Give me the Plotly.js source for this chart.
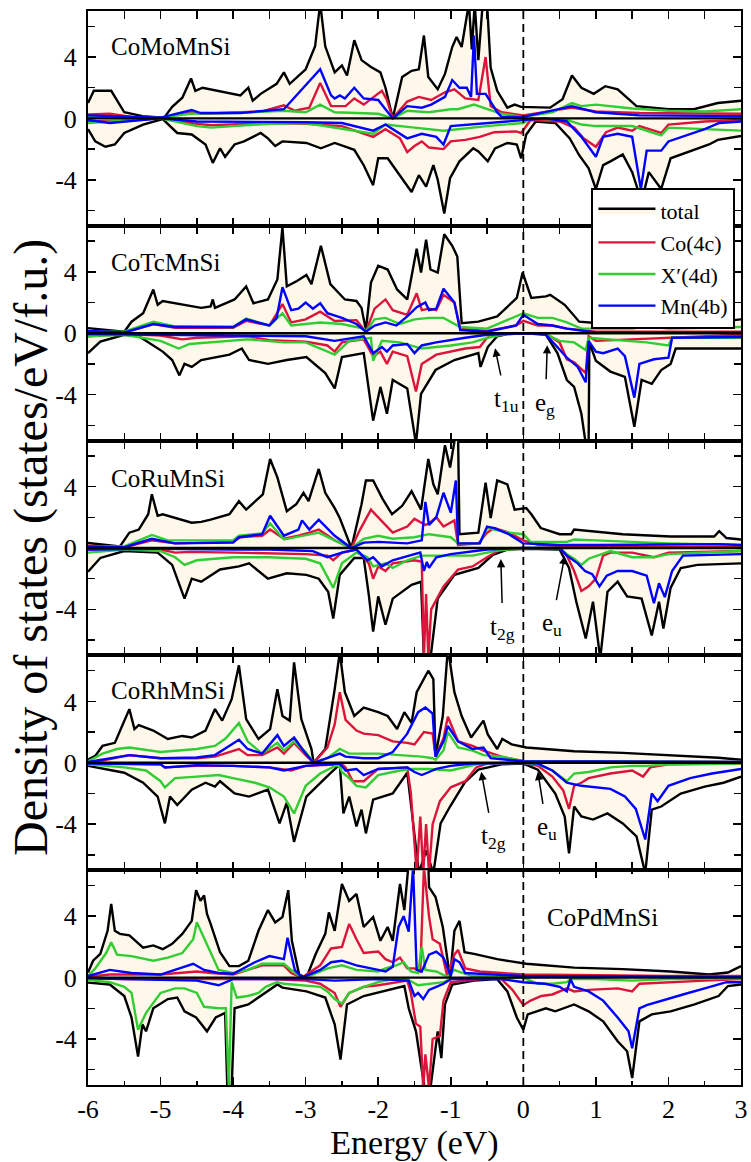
<!DOCTYPE html>
<html>
<head>
<meta charset="utf-8">
<script src="https://cdn.plot.ly/plotly-3.0.1.min.js"></script>
<style>html,body{margin:0;padding:0;background:#fff}#chart{width:751px;height:1162px}</style>
</head>
<body>
<div id="chart"></div>
<script>
// ---------- DATA: [energy (eV), DOS (states/eV/f.u.)] ----------
const compounds = ['CoMoMnSi','CoTcMnSi','CoRuMnSi','CoRhMnSi','CoPdMnSi'];
const seriesNames = ['total','Co(4c)','X\u2032(4d)','Mn(4b)'];
const xTickVals = [-6,-5,-4,-3,-2,-1,0,1,2,3];
const xTickText = ['-6','-5','-4','-3','-2','-1','0','1','2','3'];
const yTickVals = [-4,0,4];
const yTickText = ['-4','0','4'];

// CoMoMnSi
const mo_tot_up = [[-6,1.0],[-5.92,1.8],[-5.68,1.8],[-5.5,0.4],[-5.25,0.15],[-4.95,0.05],[-4.84,0.75],[-4.7,1.35],[-4.58,2.6],[-4.52,1.8],[-4.42,2.0],[-4.1,1.7],[-3.9,1.5],[-3.79,2.0],[-3.73,1.15],[-3.62,1.6],[-3.4,2.25],[-3.3,3.0],[-3.22,2.25],[-3.0,3.2],[-2.87,4.7],[-2.8,7.5],[-2.73,4.7],[-2.6,3.0],[-2.5,3.45],[-2.43,2.8],[-2.33,5.1],[-2.23,3.8],[-2.1,3.35],[-1.97,3.0],[-1.9,2.0],[-1.8,0.0],[-1.67,2.7],[-1.54,3.1],[-1.44,3.2],[-1.37,5.4],[-1.31,2.7],[-1.18,1.9],[-1.08,2.9],[-0.98,4.65],[-0.92,5.3],[-0.85,4.65],[-0.75,7.5],[-0.71,4.5],[-0.67,7.5],[-0.62,3.8],[-0.56,7.5],[-0.5,7.5],[-0.45,3.3],[-0.36,1.8],[-0.22,0.7],[-0.12,0.9],[-0.03,0.75],[0.37,0.7],[0.54,1.25],[0.67,2.8],[0.8,2.0],[0.97,1.6],[1.13,2.1],[1.3,1.9],[1.56,0.8],[2.0,0.6],[2.35,0.6],[2.68,1.0],[3.0,1.15]];
const mo_tot_dn = [[-6,-0.7],[-5.9,-1.5],[-5.76,-1.85],[-5.63,-1.7],[-5.5,-0.95],[-5.24,-0.4],[-4.97,-0.05],[-4.77,-0.95],[-4.57,-1.05],[-4.38,-1.7],[-4.28,-2.9],[-4.18,-1.95],[-4.11,-2.5],[-3.98,-1.7],[-3.85,-1.5],[-3.62,-0.95],[-3.52,-1.3],[-3.42,-1.8],[-3.32,-1.5],[-2.99,-1.6],[-2.79,-1.95],[-2.6,-1.6],[-2.33,-2.05],[-2.2,-3.05],[-2.07,-4.35],[-2.0,-2.6],[-1.87,-2.6],[-1.67,-3.9],[-1.54,-4.8],[-1.44,-3.7],[-1.34,-4.45],[-1.24,-3.05],[-1.18,-4.0],[-1.09,-6.2],[-1.01,-3.9],[-0.88,-2.8],[-0.69,-1.95],[-0.62,-2.15],[-0.49,-2.8],[-0.39,-1.95],[-0.22,-1.6],[-0.09,-1.7],[-0.03,-2.6],[0.04,-1.05],[0.17,-0.2],[0.44,-0.3],[0.64,-1.3],[0.77,-2.4],[0.9,-3.25],[1.0,-4.6],[1.1,-3.05],[1.2,-2.8],[1.37,-2.35],[1.5,-3.5],[1.63,-5.4],[1.73,-3.5],[1.9,-4.6],[2.03,-2.6],[2.29,-2.15],[2.56,-1.7],[2.68,-1.4],[3.0,-1.15]];
const mo_co_up = [[-6,0.25],[-5.7,0.3],[-5.4,0.1],[-5.0,0.02],[-4.57,0.4],[-4.4,0.3],[-3.9,0.4],[-3.6,0.45],[-3.3,0.85],[-3.15,0.5],[-2.95,0.7],[-2.8,2.3],[-2.65,0.8],[-2.45,0.8],[-2.33,1.3],[-2.2,0.9],[-1.95,1.8],[-1.88,1.2],[-1.8,0.0],[-1.6,1.1],[-1.44,1.4],[-1.27,1.2],[-1.08,1.7],[-0.95,1.9],[-0.8,1.3],[-0.62,1.2],[-0.52,4.0],[-0.45,0.8],[-0.3,0.4],[0,0.2],[0.67,0.7],[1.0,0.45],[1.6,0.35],[3.0,0.3]];
const mo_co_dn = [[-6,-0.2],[-5.5,-0.15],[-5.0,0.0],[-4.6,-0.3],[-4.3,-0.45],[-3.5,-0.3],[-3.0,-0.35],[-2.5,-0.5],[-2.07,-1.2],[-1.9,-0.7],[-1.7,-1.3],[-1.6,-2.2],[-1.5,-1.8],[-1.4,-1.5],[-1.3,-1.9],[-1.1,-2.0],[-1.0,-1.5],[-0.8,-1.4],[-0.6,-1.2],[-0.4,-0.9],[-0.1,-0.85],[-0.03,-0.95],[0.1,-0.1],[0.5,-0.2],[0.7,-0.6],[0.83,-1.3],[1.0,-1.85],[1.14,-0.9],[1.3,-0.6],[1.5,-0.8],[1.6,-0.5],[1.9,-0.95],[2.0,-0.4],[2.5,-0.2],[3.0,-0.1]];
const mo_x_up = [[-6,0.1],[-5.5,0.08],[-5.0,0.05],[-4.6,0.3],[-4.0,0.35],[-3.3,0.5],[-3.0,0.4],[-2.8,0.9],[-2.6,0.4],[-2.0,0.3],[-1.8,0.0],[-1.6,0.5],[-1.3,0.4],[-1.0,0.6],[-0.9,0.6],[-0.68,0.9],[-0.5,0.6],[-0.3,0.3],[0,0.1],[0.4,0.4],[0.67,1.0],[0.8,0.8],[1.0,0.9],[1.5,0.65],[2.0,0.5],[2.5,0.45],[3.0,0.6]];
const mo_x_dn = [[-6,-0.3],[-5.7,-0.2],[-5.0,0.0],[-4.5,-0.5],[-4.3,-0.6],[-3.5,-0.35],[-3.0,-0.3],[-2.07,-1.0],[-1.9,-0.4],[-1.5,-0.6],[-1.1,-0.8],[-0.5,-0.5],[0,-0.3],[0.1,0.0],[0.6,-0.1],[0.8,-0.4],[1.0,-0.5],[1.3,-0.5],[1.5,-0.5],[1.9,-1.1],[2.0,-0.6],[2.5,-0.7],[3.0,-0.8]];
const mo_mn_up = [[-6,0.2],[-5.7,0.15],[-5.0,0.05],[-4.57,0.55],[-4.45,0.35],[-3.9,0.35],[-3.3,0.6],[-2.8,3.2],[-2.65,1.5],[-2.6,1.3],[-2.53,1.5],[-2.46,1.3],[-2.33,2.0],[-2.2,1.3],[-2.0,1.2],[-1.9,0.6],[-1.8,0.0],[-1.6,0.8],[-1.4,0.7],[-1.27,0.9],[-1.08,1.4],[-0.98,2.5],[-0.88,2.0],[-0.78,2.0],[-0.72,1.4],[-0.68,5.4],[-0.64,1.6],[-0.52,1.6],[-0.36,0.4],[-0.3,0.1],[0,0.1],[0.67,0.8],[1.0,0.4],[1.6,0.2],[3.0,0.15]];
const mo_mn_dn = [[-6,-0.1],[-5.7,-0.3],[-5.0,0.0],[-4.5,-0.2],[-3.0,-0.25],[-2.5,-0.3],[-2.07,-0.8],[-1.9,-0.4],[-1.6,-1.3],[-1.4,-1.0],[-1.2,-1.2],[-1.1,-1.7],[-1.0,-0.5],[-0.5,-0.3],[0,-0.1],[0.3,0.0],[0.6,-0.2],[0.8,-1.2],[1.0,-2.5],[1.1,-1.2],[1.3,-1.0],[1.5,-1.2],[1.62,-4.6],[1.7,-2.1],[1.9,-2.1],[2.0,-1.5],[2.5,-0.7],[2.7,-0.3],[3.0,-0.2]];

// CoTcMnSi
const tc_tot_up = [[-6,0.33],[-5.5,0.1],[-5.4,0.75],[-5.24,1.3],[-5.1,2.85],[-5.04,1.85],[-4.97,2.1],[-4.7,1.85],[-4.44,1.65],[-4.31,1.75],[-4.28,2.2],[-4.25,1.65],[-3.98,2.2],[-3.82,3.05],[-3.72,1.95],[-3.52,2.2],[-3.39,3.5],[-3.32,6.9],[-3.26,3.05],[-3.12,3.4],[-2.99,3.8],[-2.92,3.2],[-2.79,5.7],[-2.66,3.2],[-2.46,2.2],[-2.3,2.1],[-2.23,1.65],[-2.17,0.2],[-2.1,3.3],[-2.0,4.4],[-1.87,4.15],[-1.74,2.85],[-1.6,2.2],[-1.47,5.5],[-1.41,3.95],[-1.34,6.1],[-1.28,4.15],[-1.18,3.95],[-1.09,6.45],[-0.98,5.7],[-0.91,5.0],[-0.85,0.65],[-0.62,0.75],[-0.36,1.1],[-0.09,2.3],[-0.01,3.95],[0.11,2.3],[0.31,2.4],[0.37,2.5],[0.57,1.85],[0.77,0.75],[1.04,0.65],[1.37,1.0],[1.7,1.1],[2.03,0.75],[2.69,0.75],[3.0,0.9]];
const tc_tot_dn = [[-6,-1.3],[-5.83,-0.55],[-5.5,-0.1],[-5.3,-0.2],[-4.97,-1.2],[-4.84,-1.75],[-4.74,-2.75],[-4.67,-2.0],[-4.57,-2.2],[-4.44,-1.75],[-4.05,-1.4],[-3.88,-1.0],[-3.78,-1.75],[-3.52,-2.0],[-3.26,-1.75],[-2.99,-1.55],[-2.73,-2.6],[-2.6,-3.6],[-2.5,-1.55],[-2.2,-1.3],[-2.07,-5.7],[-1.97,-3.5],[-1.88,-5.25],[-1.8,-3.05],[-1.6,-3.6],[-1.48,-7.2],[-1.41,-3.95],[-1.21,-2.4],[-0.95,-1.75],[-0.62,-1.3],[-0.59,-2.2],[-0.49,-0.9],[-0.36,-0.2],[-0.22,-0.05],[0.04,0.0],[0.31,-0.1],[0.47,-1.3],[0.6,-3.05],[0.7,-3.5],[0.8,-5.25],[0.86,-7.2],[0.9,-7.2],[0.91,-0.6],[1.0,-1.8],[1.2,-2.5],[1.4,-2.85],[1.53,-6.1],[1.63,-3.05],[1.77,-3.3],[1.9,-2.4],[2.03,-2.0],[2.1,-1.0],[2.36,-1.0],[3.0,-1.0]];
const tc_co_up = [[-6,0.1],[-5.5,0.05],[-5.1,0.6],[-4.8,0.35],[-4.0,0.35],[-3.82,0.8],[-3.5,0.5],[-3.32,1.9],[-3.2,0.7],[-3.0,0.9],[-2.8,1.4],[-2.6,0.8],[-2.3,0.85],[-2.17,0.1],[-2.05,1.6],[-1.9,2.2],[-1.8,1.5],[-1.6,1.2],[-1.47,2.6],[-1.4,1.5],[-1.3,1.6],[-1.2,1.5],[-1.1,2.5],[-0.95,2.0],[-0.87,0.3],[-0.5,0.15],[-0.1,0.5],[0,0.8],[0.2,0.5],[0.4,0.5],[0.6,0.3],[1.0,0.1],[3.0,0.1]];
const tc_co_dn = [[-6,-0.2],[-5.5,-0.05],[-5.0,-0.15],[-4.7,-0.4],[-4.5,-0.3],[-3.8,-0.2],[-3.5,-0.45],[-3.0,-0.55],[-2.7,-0.8],[-2.6,-1.2],[-2.5,-0.6],[-2.2,-0.4],[-2.07,-1.5],[-1.97,-1.2],[-1.88,-2.0],[-1.8,-1.2],[-1.6,-1.5],[-1.48,-3.8],[-1.4,-2.0],[-1.2,-1.4],[-0.8,-1.0],[-0.6,-0.9],[-0.5,-0.3],[-0.3,0.0],[0.3,0.0],[0.5,-0.6],[0.6,-1.7],[0.7,-1.9],[0.86,-2.6],[0.9,-0.2],[1.0,-0.5],[1.5,-0.4],[2.0,-0.3],[3.0,-0.1]];
const tc_x_up = [[-6,0.1],[-5.5,0.1],[-5.1,0.75],[-4.8,0.45],[-4.0,0.4],[-3.82,0.95],[-3.5,0.5],[-3.32,1.3],[-3.2,0.5],[-2.8,0.7],[-2.5,0.6],[-2.2,0.3],[-2.17,0.1],[-2.05,0.9],[-1.9,1.0],[-1.7,0.6],[-1.5,0.9],[-1.3,1.0],[-1.1,1.0],[-0.87,0.4],[-0.5,0.3],[0,1.3],[0.2,1.0],[0.4,1.0],[0.6,0.7],[0.8,0.3],[1.5,0.3],[1.7,0.45],[2.0,0.3],[3.0,0.4]];
const tc_x_dn = [[-6,-0.2],[-5.5,-0.1],[-5.0,-0.5],[-4.75,-1.0],[-4.6,-0.7],[-4.0,-0.5],[-3.8,-0.4],[-3.3,-0.6],[-3.0,-0.6],[-2.6,-1.4],[-2.4,-0.5],[-2.1,-0.3],[-2.07,-1.8],[-1.95,-0.5],[-1.7,-0.6],[-1.4,-1.0],[-1.0,-0.8],[-0.7,-0.6],[-0.5,-0.3],[-0.3,-0.1],[0,0.0],[0.3,-0.05],[0.5,-0.5],[0.7,-0.6],[0.86,-1.1],[0.9,-0.3],[1.5,-0.5],[1.7,-0.6],[2.0,-0.8],[2.05,-0.3],[3.0,-0.3]];
const tc_mn_up = [[-6,0.15],[-5.5,0.05],[-5.1,0.6],[-4.8,0.4],[-4.0,0.4],[-3.82,0.9],[-3.5,0.5],[-3.4,1.0],[-3.32,3.0],[-3.2,1.5],[-3.1,1.6],[-3.0,2.0],[-2.9,1.6],[-2.8,1.95],[-2.7,1.3],[-2.5,1.0],[-2.3,0.6],[-2.17,0.1],[-2.05,0.5],[-1.9,0.7],[-1.75,0.5],[-1.6,1.1],[-1.47,1.7],[-1.35,2.0],[-1.3,1.5],[-1.2,1.6],[-1.1,2.9],[-0.95,2.0],[-0.87,0.2],[-0.5,0.1],[-0.1,0.5],[0,1.2],[0.2,0.6],[0.4,0.5],[0.6,0.3],[1.0,0.05],[3.0,0.05]];
const tc_mn_dn = [[-6,-0.05],[-5.0,-0.1],[-4.0,-0.15],[-3.0,-0.2],[-2.6,-0.5],[-2.2,-0.2],[-2.07,-1.3],[-1.95,-0.9],[-1.88,-1.2],[-1.8,-0.8],[-1.6,-0.7],[-1.5,-1.3],[-1.4,-0.8],[-1.2,-0.6],[-0.8,-0.3],[-0.5,-0.1],[0,0.0],[0.3,-0.05],[0.45,-0.8],[0.55,-1.3],[0.6,-1.6],[0.75,-2.2],[0.86,-3.2],[0.9,-0.5],[1.0,-1.2],[1.1,-1.3],[1.3,-1.0],[1.4,-1.5],[1.53,-4.2],[1.6,-2.0],[1.8,-1.7],[2.0,-1.6],[2.05,-0.3],[3.0,-0.25]];

// CoRuMnSi
const ru_tot_up = [[-6,0.33],[-5.56,0.1],[-5.43,1.0],[-5.3,1.2],[-5.17,2.2],[-5.12,3.5],[-5.04,2.1],[-4.97,2.2],[-4.57,1.65],[-4.44,1.7],[-4.31,1.85],[-4.05,2.2],[-3.92,3.05],[-3.82,2.5],[-3.59,3.5],[-3.49,5.8],[-3.39,4.6],[-3.26,2.4],[-3.13,2.85],[-3.03,3.6],[-2.96,3.05],[-2.82,5.15],[-2.73,3.6],[-2.6,2.6],[-2.53,1.95],[-2.37,0.0],[-2.23,2.85],[-2.17,4.4],[-2.07,4.4],[-1.94,3.2],[-1.81,2.2],[-1.67,2.75],[-1.54,3.7],[-1.41,2.5],[-1.31,5.8],[-1.24,4.15],[-1.18,3.5],[-1.08,6.7],[-1.01,5.25],[-0.93,7.5],[-0.9,7.5],[-0.88,0.9],[-0.62,1.0],[-0.52,4.25],[-0.45,1.95],[-0.36,4.4],[-0.22,4.15],[-0.12,2.5],[0.04,2.6],[0.11,2.2],[0.24,1.3],[0.5,0.9],[0.66,0.9],[0.7,1.2],[1.37,0.9],[2.03,0.75],[2.63,0.75],[2.7,1.1],[2.8,0.65],[3.0,0.55]];
const ru_tot_dn = [[-6,-1.55],[-5.83,-0.65],[-5.5,-0.2],[-5.04,-0.3],[-4.84,-1.1],[-4.67,-3.3],[-4.57,-2.0],[-4.44,-2.2],[-4.18,-1.4],[-3.92,-1.2],[-3.78,-1.0],[-3.52,-2.0],[-3.26,-1.65],[-2.99,-1.75],[-2.82,-2.0],[-2.69,-2.85],[-2.62,-4.6],[-2.53,-1.75],[-2.33,-0.65],[-2.2,-0.65],[-2.13,-3.05],[-2.07,-5.45],[-2.0,-3.15],[-1.9,-5.0],[-1.8,-3.3],[-1.54,-2.4],[-1.41,-2.2],[-1.37,-7.2],[-1.28,-7.2],[-1.18,-3.3],[-0.95,-1.75],[-0.62,-1.3],[-0.42,-0.45],[-0.22,-0.1],[0.04,-0.05],[0.5,-0.1],[0.63,-1.3],[0.73,-3.5],[0.86,-5.9],[0.96,-3.5],[1.06,-7.2],[1.16,-2.85],[1.3,-2.2],[1.43,-3.15],[1.63,-3.3],[1.77,-5.7],[1.87,-3.5],[1.93,-5.25],[2.03,-2.6],[2.17,-1.3],[2.4,-1.1],[3.0,-1.0]];
const ru_co_up = [[-6,0.15],[-5.5,0.05],[-5.12,0.5],[-4.8,0.3],[-4.0,0.4],[-3.9,0.7],[-3.6,0.8],[-3.49,1.2],[-3.3,0.6],[-3.1,0.8],[-2.95,1.0],[-2.82,1.2],[-2.6,0.5],[-2.37,0.0],[-2.25,1.2],[-2.1,2.5],[-2.0,2.0],[-1.8,1.0],[-1.6,1.4],[-1.5,1.9],[-1.35,1.5],[-1.3,1.6],[-1.2,2.0],[-1.1,1.4],[-0.95,1.8],[-0.9,0.2],[-0.62,0.3],[-0.5,1.0],[-0.4,1.3],[-0.2,1.0],[0,0.5],[0.2,0.2],[0.7,0.1],[3.0,0.05]];
const ru_co_dn = [[-6,-0.1],[-5.0,-0.1],[-4.8,-0.3],[-4.6,-0.25],[-4.0,-0.3],[-3.5,-0.35],[-3.0,-0.4],[-2.7,-0.5],[-2.62,-0.8],[-2.5,-0.3],[-2.3,-0.1],[-2.13,-1.0],[-2.07,-2.0],[-2.0,-1.2],[-1.9,-1.5],[-1.8,-1.0],[-1.5,-0.8],[-1.4,-0.9],[-1.37,-7.2],[-1.34,-3.0],[-1.31,-7.2],[-1.27,-4.0],[-1.1,-2.5],[-0.9,-1.4],[-0.7,-1.2],[-0.5,-0.6],[-0.3,-0.05],[0.5,0.0],[0.6,-0.5],[0.7,-1.5],[0.8,-2.8],[0.9,-2.5],[1.0,-2.0],[1.1,-0.5],[1.2,-0.3],[1.5,-0.3],[1.8,-0.6],[2.0,-0.3],[3.0,-0.2]];
const ru_x_up = [[-6,0.1],[-5.5,0.1],[-5.12,0.85],[-4.9,0.5],[-4.0,0.5],[-3.92,0.8],[-3.6,0.95],[-3.49,1.6],[-3.3,0.55],[-2.95,0.9],[-2.82,1.0],[-2.6,0.5],[-2.37,0.0],[-2.2,0.6],[-2.0,0.8],[-1.8,0.6],[-1.5,0.7],[-1.3,0.9],[-1.0,0.7],[-0.9,0.3],[-0.6,0.3],[-0.5,1.3],[-0.4,1.2],[-0.2,1.0],[0,0.9],[0.1,0.4],[0.6,0.4],[0.7,0.55],[1.0,0.5],[2.0,0.3],[3.0,0.2]];
const ru_x_dn = [[-6,-0.3],[-5.5,-0.1],[-5.0,-0.2],[-4.8,-0.6],[-4.67,-1.1],[-4.5,-0.8],[-4.0,-0.6],[-3.5,-0.6],[-3.0,-0.7],[-2.8,-1.0],[-2.62,-2.6],[-2.5,-1.0],[-2.3,-0.3],[-2.15,-0.6],[-2.07,-1.2],[-1.9,-1.0],[-1.8,-1.3],[-1.6,-0.8],[-1.4,-0.5],[-1.2,-0.5],[-0.7,-0.5],[-0.4,-0.2],[0,0.0],[0.5,0.0],[0.6,-0.4],[0.7,-0.7],[0.8,-1.1],[0.9,-0.7],[1.2,-0.2],[1.5,-0.6],[1.8,-0.6],[2.0,-0.4],[3.0,-0.2]];
const ru_mn_up = [[-6,0.1],[-5.5,0.05],[-5.12,0.6],[-4.8,0.3],[-4.0,0.35],[-3.92,0.7],[-3.6,0.9],[-3.49,2.1],[-3.3,0.8],[-3.1,1.2],[-3.05,1.8],[-2.95,1.2],[-2.82,1.85],[-2.6,0.8],[-2.37,0.0],[-2.2,0.35],[-2.0,0.4],[-1.6,0.3],[-1.4,0.5],[-1.35,3.0],[-1.3,1.5],[-1.2,2.0],[-1.1,3.6],[-1.0,2.3],[-0.93,4.4],[-0.9,0.3],[-0.6,0.3],[-0.5,1.4],[-0.4,1.3],[-0.2,0.9],[0,0.3],[0.5,0.2],[1.0,0.2],[2.7,0.25],[3.0,0.2]];
const ru_mn_dn = [[-6,-0.1],[-5.0,-0.05],[-4.0,-0.1],[-3.5,-0.1],[-2.9,-0.2],[-2.7,-0.6],[-2.5,-0.3],[-2.3,-0.1],[-2.15,-0.8],[-2.07,-0.6],[-1.95,-1.2],[-1.8,-0.8],[-1.5,-0.4],[-1.42,-0.3],[-1.37,-1.5],[-1.33,-0.9],[-1.3,-1.3],[-1.2,-0.6],[-1.0,-0.4],[-0.5,-0.1],[0,0.0],[0.5,0.0],[0.6,-0.5],[0.75,-1.0],[0.85,-1.5],[0.95,-1.7],[1.05,-2.5],[1.15,-1.8],[1.3,-1.5],[1.5,-1.5],[1.7,-1.8],[1.8,-3.6],[1.87,-2.3],[1.95,-3.2],[2.05,-1.5],[2.2,-0.5],[3.0,-0.4]];

// CoRhMnSi
const rh_tot_up = [[-6,0.2],[-5.9,0.45],[-5.8,1.1],[-5.63,1.3],[-5.53,2.4],[-5.43,3.5],[-5.36,2.2],[-5.3,2.45],[-5.1,2.1],[-4.9,1.55],[-4.7,1.75],[-4.57,1.65],[-4.38,2.1],[-4.25,3.5],[-4.15,2.75],[-4.02,4.15],[-3.92,6.35],[-3.82,2.85],[-3.65,1.55],[-3.49,2.2],[-3.39,4.8],[-3.32,3.05],[-3.22,2.75],[-3.16,6.55],[-3.06,2.85],[-2.92,0.9],[-2.89,0.0],[-2.73,0.9],[-2.6,4.8],[-2.53,7.2],[-2.46,4.6],[-2.33,3.05],[-2.2,3.6],[-2.0,3.3],[-1.87,3.05],[-1.74,2.2],[-1.64,3.3],[-1.54,2.6],[-1.47,4.6],[-1.37,5.45],[-1.31,6.0],[-1.24,5.45],[-1.21,0.45],[-1.11,3.05],[-1.04,7.5],[-0.95,4.6],[-0.85,3.05],[-0.72,1.65],[-0.55,2.75],[-0.49,1.85],[-0.36,0.9],[-0.29,1.55],[-0.16,1.2],[0.04,1.0],[0.7,0.75],[1.37,0.65],[2.03,0.5],[2.69,0.33],[3.0,0.2]];
const rh_tot_dn = [[-6,-0.2],[-5.7,-0.45],[-5.5,-0.65],[-5.24,-1.3],[-5.04,-2.2],[-4.94,-3.95],[-4.87,-2.2],[-4.77,-2.75],[-4.57,-1.75],[-4.38,-1.3],[-4.25,-1.55],[-4.18,-1.2],[-3.98,-2.0],[-3.78,-2.2],[-3.52,-1.75],[-3.36,-3.95],[-3.26,-2.6],[-3.16,-5.15],[-2.99,-2.2],[-2.73,-1.0],[-2.53,-0.1],[-2.48,-3.3],[-2.4,-2.2],[-2.3,-4.15],[-2.23,-3.05],[-2.17,-4.6],[-2.07,-2.4],[-1.8,-2.0],[-1.6,-0.65],[-1.54,-3.05],[-1.44,-7.2],[-1.34,-5.7],[-1.24,-7.2],[-1.14,-3.95],[-1.01,-2.85],[-0.81,-1.3],[-0.62,-0.45],[-0.3,-0.1],[0.0,-0.05],[0.2,-0.45],[0.44,-2.0],[0.57,-3.5],[0.63,-5.9],[0.7,-2.85],[0.8,-3.5],[0.96,-3.7],[1.16,-3.3],[1.37,-3.95],[1.56,-4.8],[1.68,-7.2],[1.77,-3.05],[1.9,-2.85],[2.17,-2.0],[2.5,-1.55],[2.76,-1.3],[3.0,-0.9]];
const rh_co_up = [[-6,0.05],[-5.8,0.15],[-5.43,0.5],[-5.0,0.3],[-4.5,0.3],[-4.25,0.4],[-3.92,0.9],[-3.8,0.5],[-3.6,0.5],[-3.39,1.0],[-3.3,0.6],[-3.16,1.3],[-3.0,0.5],[-2.89,0.0],[-2.7,1.0],[-2.6,2.5],[-2.53,4.6],[-2.45,2.8],[-2.3,2.1],[-2.2,1.9],[-2.0,1.8],[-1.8,1.4],[-1.6,1.3],[-1.5,1.2],[-1.37,2.0],[-1.25,1.9],[-1.21,0.4],[-1.1,1.6],[-1.04,3.0],[-0.9,1.4],[-0.7,1.1],[-0.55,0.8],[-0.3,0.4],[0,0.1],[3.0,0.05]];
const rh_co_dn = [[-6,-0.05],[-5.0,-0.1],[-4.94,-0.3],[-4.5,-0.2],[-4.0,-0.2],[-3.5,-0.3],[-3.2,-0.5],[-3.0,-0.2],[-2.5,-0.1],[-2.45,-0.3],[-2.35,-1.2],[-2.2,-1.2],[-2.0,-0.4],[-1.6,-0.3],[-1.55,-2.0],[-1.47,-7.2],[-1.42,-3.5],[-1.38,-7.2],[-1.34,-4.0],[-1.3,-7.2],[-1.25,-4.0],[-1.15,-2.5],[-1.0,-1.6],[-0.8,-1.2],[-0.65,-0.3],[-0.5,-0.05],[0,0.0],[0.2,-0.2],[0.4,-0.9],[0.55,-1.8],[0.63,-3.0],[0.7,-1.5],[0.8,-1.3],[0.9,-1.0],[1.2,-0.7],[1.5,-0.5],[1.65,-0.9],[1.75,-0.3],[2.0,-0.1],[3.0,-0.05]];
const rh_x_up = [[-6,0.1],[-5.8,0.6],[-5.6,0.9],[-5.43,1.0],[-5.0,0.7],[-4.5,0.9],[-4.25,1.1],[-4.1,1.6],[-3.92,2.6],[-3.8,1.4],[-3.6,0.6],[-3.39,1.3],[-3.3,0.8],[-3.16,1.4],[-3.0,0.7],[-2.89,0.0],[-2.7,0.3],[-2.53,0.9],[-2.4,0.6],[-2.0,0.6],[-1.7,0.5],[-1.4,0.4],[-1.25,0.3],[-1.21,0.2],[-1.1,0.8],[-1.04,2.0],[-0.9,1.0],[-0.7,0.8],[-0.55,0.5],[-0.3,0.4],[0,0.1],[3.0,0.05]];
const rh_x_dn = [[-6,-0.1],[-5.5,-0.3],[-5.2,-0.5],[-5.0,-1.2],[-4.94,-1.6],[-4.8,-1.0],[-4.5,-0.9],[-4.2,-0.8],[-4.0,-1.0],[-3.7,-1.3],[-3.5,-1.6],[-3.3,-2.2],[-3.16,-3.3],[-3.0,-1.5],[-2.8,-0.7],[-2.55,-0.1],[-2.5,-0.6],[-2.4,-1.0],[-2.3,-1.5],[-2.17,-1.6],[-2.0,-0.8],[-1.7,-0.5],[-1.55,-0.4],[-1.3,-0.4],[-1.0,-0.5],[-0.8,-0.3],[-0.6,-0.05],[0,0.0],[0.2,-0.1],[0.4,-0.5],[0.6,-1.2],[0.7,-0.7],[0.9,-0.6],[1.2,-0.3],[1.5,-0.2],[1.7,-0.2],[2.0,-0.1],[3.0,-0.05]];
const rh_mn_up = [[-6,0.05],[-5.8,0.2],[-5.43,0.5],[-5.0,0.3],[-4.5,0.35],[-4.25,0.5],[-3.92,1.5],[-3.8,0.9],[-3.6,0.6],[-3.39,1.8],[-3.3,1.1],[-3.16,1.65],[-3.0,0.6],[-2.89,0.0],[-2.7,0.3],[-2.53,0.6],[-2.45,0.4],[-2.2,0.3],[-2.0,0.3],[-1.8,0.7],[-1.6,1.9],[-1.45,3.3],[-1.35,3.6],[-1.25,3.2],[-1.21,0.4],[-1.1,1.4],[-1.04,2.4],[-0.9,1.4],[-0.7,0.9],[-0.55,1.0],[-0.45,0.3],[0,0.1],[3.0,0.05]];
const rh_mn_dn = [[-6,-0.05],[-5.0,-0.1],[-4.94,-0.3],[-4.5,-0.15],[-4.0,-0.2],[-3.5,-0.3],[-3.3,-0.5],[-3.0,-0.2],[-2.53,-0.05],[-2.45,-0.5],[-2.3,-0.4],[-2.2,-0.8],[-2.0,-0.4],[-1.6,-0.3],[-1.5,-0.6],[-1.4,-0.8],[-1.3,-0.6],[-1.2,-0.4],[-1.0,-0.2],[-0.7,-0.05],[0,0.0],[0.2,-0.05],[0.4,-0.5],[0.6,-1.3],[0.8,-1.5],[1.0,-1.6],[1.2,-1.7],[1.4,-2.2],[1.55,-3.0],[1.68,-5.0],[1.77,-2.0],[1.85,-2.5],[2.0,-1.5],[2.3,-1.0],[2.6,-0.7],[3.0,-0.4]];

// CoPdMnSi
const pd_tot_up = [[-6,0.33],[-5.93,1.1],[-5.83,1.55],[-5.73,3.05],[-5.68,4.8],[-5.63,3.05],[-5.56,2.85],[-5.43,2.75],[-5.24,1.95],[-5.1,2.1],[-4.97,1.85],[-4.84,2.2],[-4.7,2.85],[-4.57,3.7],[-4.51,5.7],[-4.45,5.0],[-4.4,5.35],[-4.36,4.15],[-4.31,3.5],[-4.18,1.65],[-4.05,0.75],[-3.92,0.75],[-3.79,1.1],[-3.65,3.05],[-3.52,4.4],[-3.42,3.6],[-3.32,3.95],[-3.24,5.7],[-3.19,2.4],[-3.09,0.2],[-2.99,0.0],[-2.86,1.55],[-2.73,2.85],[-2.68,4.25],[-2.6,3.05],[-2.5,6.1],[-2.4,5.0],[-2.3,5.45],[-2.2,3.3],[-2.07,3.95],[-1.97,2.4],[-1.87,3.3],[-1.8,2.4],[-1.7,6.1],[-1.64,4.4],[-1.58,7.5],[-1.31,7.5],[-1.3,5.9],[-1.21,5.25],[-1.11,3.3],[-1.01,0.0],[-0.95,3.05],[-0.88,3.7],[-0.81,1.65],[-0.68,1.55],[-0.36,1.2],[0.04,0.9],[0.7,0.65],[1.37,0.55],[2.03,0.4],[2.56,0.2],[2.82,0.33],[3.0,0.75]];
const pd_tot_dn = [[-6,-0.33],[-5.7,-0.45],[-5.5,-1.2],[-5.4,-2.6],[-5.31,-5.15],[-5.25,-3.05],[-5.2,-3.5],[-5.1,-2.0],[-4.9,-1.4],[-4.77,-1.3],[-4.67,-2.2],[-4.51,-2.6],[-4.36,-3.5],[-4.24,-2.6],[-4.11,-2.3],[-4.08,-7.2],[-4.02,-7.2],[-3.98,-2.0],[-3.79,-1.75],[-3.65,-1.3],[-3.52,-0.9],[-3.39,-0.45],[-3.32,-0.65],[-2.99,-0.9],[-2.73,-1.3],[-2.6,-3.05],[-2.52,-5.35],[-2.43,-1.75],[-2.2,-1.2],[-1.94,-0.9],[-1.64,-0.55],[-1.58,-2.0],[-1.48,-3.5],[-1.41,-5.7],[-1.36,-7.2],[-1.28,-7.2],[-1.18,-3.5],[-1.13,-5.25],[-1.08,-1.75],[-0.98,-0.45],[-0.68,-0.2],[-0.36,-0.1],[-0.22,-0.9],[-0.09,-2.6],[0.0,-3.4],[0.06,-2.4],[0.31,-2.0],[0.44,-2.2],[0.7,-1.75],[0.9,-2.2],[1.1,-2.85],[1.3,-4.15],[1.43,-4.8],[1.5,-6.55],[1.6,-2.85],[1.77,-2.4],[2.03,-2.2],[2.36,-1.75],[2.69,-1.2],[2.82,-0.55],[3.0,-0.45]];
const pd_co_up = [[-6,0.05],[-5.7,0.2],[-5.0,0.2],[-4.5,0.4],[-4.3,0.3],[-4.0,0.2],[-3.6,0.8],[-3.3,0.8],[-3.2,0.3],[-3.05,0.0],[-2.8,0.8],[-2.65,1.9],[-2.5,2.0],[-2.4,3.5],[-2.3,2.5],[-2.2,1.6],[-2.0,1.7],[-1.9,1.2],[-1.8,1.0],[-1.7,1.3],[-1.6,0.6],[-1.5,0.6],[-1.42,0.4],[-1.37,7.2],[-1.3,4.0],[-1.25,2.5],[-1.15,2.2],[-1.05,0.1],[-0.95,1.5],[-0.9,1.8],[-0.8,0.6],[-0.6,0.4],[-0.3,0.3],[0,0.2],[1.0,0.15],[2.0,0.1],[3.0,0.1]];
const pd_co_dn = [[-6,-0.05],[-5.5,-0.1],[-4.5,-0.1],[-3.5,-0.1],[-3.0,-0.2],[-2.8,-0.4],[-2.6,-1.0],[-2.52,-1.9],[-2.4,-1.0],[-2.2,-0.6],[-2.0,-0.5],[-1.6,-0.2],[-1.55,-1.0],[-1.48,-3.0],[-1.42,-3.2],[-1.38,-7.2],[-1.35,-5.0],[-1.3,-7.2],[-1.25,-4.0],[-1.15,-3.8],[-1.1,-1.5],[-1.0,-0.3],[-0.5,-0.05],[-0.3,-0.1],[-0.15,-0.8],[0,-1.8],[0.1,-1.5],[0.25,-1.2],[0.4,-1.1],[0.6,-0.7],[0.7,-0.9],[0.9,-0.8],[1.3,-0.7],[1.5,-0.9],[1.6,-0.4],[2.0,-0.3],[2.5,-0.2],[3.0,-0.1]];
const pd_x_up = [[-6,0.1],[-5.9,0.6],[-5.75,1.6],[-5.68,2.3],[-5.6,1.5],[-5.4,1.4],[-5.1,1.1],[-4.9,1.3],[-4.7,1.6],[-4.55,2.5],[-4.5,3.6],[-4.4,2.6],[-4.3,1.5],[-4.2,0.5],[-4.0,0.3],[-3.8,0.5],[-3.6,0.9],[-3.3,0.9],[-3.2,0.5],[-3.05,0.0],[-2.9,0.2],[-2.7,0.6],[-2.5,0.8],[-2.3,0.5],[-2.0,0.4],[-1.9,0.6],[-1.75,0.8],[-1.65,1.0],[-1.55,0.4],[-1.45,0.3],[-1.4,2.0],[-1.35,0.5],[-1.2,0.4],[-1.05,0.05],[-0.95,0.5],[-0.9,0.4],[-0.7,0.1],[0,0.05],[3.0,0.05]];
const pd_x_dn = [[-6,-0.15],[-5.7,-0.3],[-5.5,-0.6],[-5.4,-1.0],[-5.31,-3.4],[-5.2,-2.3],[-5.0,-1.0],[-4.8,-0.7],[-4.67,-0.7],[-4.5,-1.0],[-4.4,-1.9],[-4.2,-2.0],[-4.1,-2.0],[-4.06,-7.2],[-4.02,-0.3],[-3.95,-1.3],[-3.8,-1.2],[-3.65,-1.0],[-3.55,-0.6],[-3.4,-0.3],[-3.3,-0.4],[-3.0,-0.5],[-2.8,-0.6],[-2.7,-0.9],[-2.6,-1.4],[-2.5,-1.7],[-2.4,-1.0],[-2.2,-0.6],[-2.0,-0.3],[-1.8,-0.1],[-1.6,-0.1],[-1.45,-0.5],[-1.3,-0.4],[-1.1,-0.3],[-1.0,-0.05],[0,0.0],[0.2,-0.4],[0.4,-0.4],[0.6,-0.3],[0.65,-0.1],[1.0,-0.1],[1.5,-0.2],[2.0,-0.1],[3.0,-0.05]];
const pd_mn_up = [[-6,0.1],[-5.7,0.5],[-5.4,0.3],[-5.0,0.2],[-4.55,0.9],[-4.4,0.5],[-4.2,0.3],[-4.0,0.25],[-3.7,1.0],[-3.5,1.4],[-3.3,1.2],[-3.25,2.6],[-3.15,0.5],[-3.05,0.0],[-2.8,0.5],[-2.65,1.0],[-2.5,1.1],[-2.3,0.8],[-2.0,0.5],[-1.9,0.4],[-1.8,0.7],[-1.72,3.3],[-1.65,4.0],[-1.58,3.0],[-1.52,7.2],[-1.47,0.5],[-1.4,0.4],[-1.3,1.5],[-1.2,1.7],[-1.1,1.3],[-1.0,0.1],[-0.95,1.2],[-0.88,1.0],[-0.8,0.3],[0,0.1],[3.0,0.05]];
const pd_mn_dn = [[-6,-0.05],[-5.5,-0.1],[-4.5,-0.2],[-4.2,-0.5],[-4.0,-0.1],[-3.0,-0.1],[-2.6,-0.2],[-2.0,-0.1],[-1.58,-0.2],[-1.5,-1.2],[-1.45,-1.0],[-1.38,-1.4],[-1.3,-0.8],[-1.2,-0.6],[-1.1,-0.4],[-1.0,-0.1],[-0.3,-0.1],[0,-0.3],[0.3,-0.4],[0.5,-0.6],[0.6,-0.9],[0.65,-0.1],[0.7,-0.6],[0.9,-0.9],[1.1,-1.5],[1.3,-2.6],[1.45,-3.5],[1.5,-4.6],[1.6,-2.0],[1.7,-1.8],[1.9,-1.5],[2.2,-1.1],[2.5,-0.7],[2.8,-0.3],[3.0,-0.3]];

// ---------- BUILD ----------
const panelData = [
  [[mo_tot_up,mo_tot_dn],[mo_co_up,mo_co_dn],[mo_x_up,mo_x_dn],[mo_mn_up,mo_mn_dn]],
  [[tc_tot_up,tc_tot_dn],[tc_co_up,tc_co_dn],[tc_x_up,tc_x_dn],[tc_mn_up,tc_mn_dn]],
  [[ru_tot_up,ru_tot_dn],[ru_co_up,ru_co_dn],[ru_x_up,ru_x_dn],[ru_mn_up,ru_mn_dn]],
  [[rh_tot_up,rh_tot_dn],[rh_co_up,rh_co_dn],[rh_x_up,rh_x_dn],[rh_mn_up,rh_mn_dn]],
  [[pd_tot_up,pd_tot_dn],[pd_co_up,pd_co_dn],[pd_x_up,pd_x_dn],[pd_mn_up,pd_mn_dn]]
];
const colors = ['#000000','#dc143c','#32cd32','#0000ff'];
const FONT = '"Liberation Serif","Times New Roman",Times,serif';

const traces = [];
panelData.forEach((panel, i) => {
  const ya = i === 0 ? 'y' : 'y' + (i + 1);
  panel.forEach((pair, s) => {
    pair.forEach((arr, k) => {
      const t = {
        type: 'scatter', mode: 'lines',
        x: arr.map(p => p[0]), y: arr.map(p => p[1]),
        xaxis: 'x', yaxis: ya,
        name: seriesNames[s], legendgroup: seriesNames[s],
        showlegend: (i === 0 && k === 0),
        line: {color: colors[s], width: 2.4},
        hoverinfo: 'skip'
      };
      if (s === 0) { t.fill = 'tozeroy'; t.fillcolor = '#fdf8ea'; }
      traces.push(t);
    });
  });
});

const layout = {
  width: 751, height: 1162,
  margin: {l: 88, r: 10, t: 11, b: 77},
  paper_bgcolor: '#fff', plot_bgcolor: '#fff',
  font: {family: FONT, color: '#000'},
  showlegend: true,
  legend: {x: 0.771, y: 0.8352, xanchor: 'left', yanchor: 'top',
    bgcolor: '#fff', bordercolor: '#000', borderwidth: 2,
    font: {family: FONT, size: 22, color: '#000'}, itemwidth: 57, tracegroupgap: 0},
  xaxis: {
    anchor: 'y5', range: [-6, 3], tickmode: 'array', tickvals: xTickVals, ticktext: xTickText,
    ticks: 'inside', ticklen: 8, tickwidth: 1.5, tickcolor: '#000',
    minor: {dtick: 0.5, tick0: 0, ticks: 'inside', ticklen: 4, tickwidth: 1.5, tickcolor: '#000'},
    showline: true, linewidth: 2, linecolor: '#000', mirror: 'allticks',
    showgrid: false, zeroline: false, layer: 'above traces',
    tickfont: {family: FONT, size: 26},
    title: {text: 'Energy (eV)', font: {family: FONT, size: 34}, standoff: 6}
  },
  shapes: [{type: 'line', xref: 'x', yref: 'paper', x0: 0, x1: 0, y0: 0, y1: 1,
            line: {color: '#000', width: 1.8, dash: '8px,5px'}, layer: 'above'}],
  annotations: []
};
const labelY = [4.7, 4.6, 4.5, 4.7, 3.9];
const labelX = [-5.71, -5.71, -5.71, -5.71, 0.3];
for (let i = 0; i < 5; i++) {
  const key = i === 0 ? 'yaxis' : 'yaxis' + (i + 1);
  const yref = i === 0 ? 'y' : 'y' + (i + 1);
  layout[key] = {
    domain: [1 - (i + 1) * 0.2, 1 - i * 0.2], anchor: 'x', range: [-7, 7],
    tickmode: 'array', tickvals: yTickVals, ticktext: yTickText,
    ticks: 'inside', ticklen: 8, tickwidth: 1.5, tickcolor: '#000',
    minor: {tickmode: 'array', tickvals: [-6, -2, 2, 6], ticks: 'inside', ticklen: 7, tickwidth: 1.5, tickcolor: '#000'},
    showline: true, linewidth: 2, linecolor: '#000', mirror: 'ticks',
    showgrid: false, zeroline: false,
    layer: 'above traces', ticklabelstandoff: 4,
    tickfont: {family: FONT, size: 26}
  };
  // horizontal zero reference line of each panel
  layout.shapes.push({type: 'line', xref: 'x domain', yref: yref, x0: 0, x1: 1, y0: 0, y1: 0,
    line: {color: '#000', width: 2.4}, layer: 'above'});
  layout.annotations.push({
    text: compounds[i], xref: 'x', yref: yref,
    x: labelX[i], y: labelY[i], xanchor: 'left', yanchor: 'middle', showarrow: false,
    font: {family: FONT, size: 25}
  });
}
layout.annotations.push({
  text: 'Density of states (states/eV/f.u.)', textangle: -90,
  xref: 'paper', yref: 'paper', x: 0, y: 0.5, xshift: -57, xanchor: 'center', yanchor: 'middle',
  showarrow: false, font: {family: FONT, size: 48}
});
const arrowDefs = [
  {t: 't<sub>1u</sub>', ya: 'y2', x: -0.39, y: -0.98, ax: 11, ay: 52},
  {t: 'e<sub>g</sub>', ya: 'y2', x: 0.33, y: -0.78, ax: -2, ay: 59},
  {t: 't<sub>2g</sub>', ya: 'y3', x: -0.31, y: -0.72, ax: 2, ay: 69},
  {t: 'e<sub>u</sub>', ya: 'y3', x: 0.57, y: -0.52, ax: -13, ay: 69},
  {t: 't<sub>2g</sub>', ya: 'y4', x: -0.58, y: -0.59, ax: 12, ay: 66},
  {t: 'e<sub>u</sub>', ya: 'y4', x: 0.2, y: -0.59, ax: 9, ay: 57}
];
arrowDefs.forEach(a => layout.annotations.push({
  text: a.t, xref: 'x', yref: a.ya, x: a.x, y: a.y, ax: a.ax, ay: a.ay,
  showarrow: true, arrowhead: 2, arrowsize: 1.1, arrowwidth: 1.5, arrowcolor: '#000',
  startstandoff: 8, font: {family: FONT, size: 25, color: '#000'}
}));

Plotly.newPlot('chart', traces, layout, {displayModeBar: false, staticPlot: true});
</script>
</body>
</html>
